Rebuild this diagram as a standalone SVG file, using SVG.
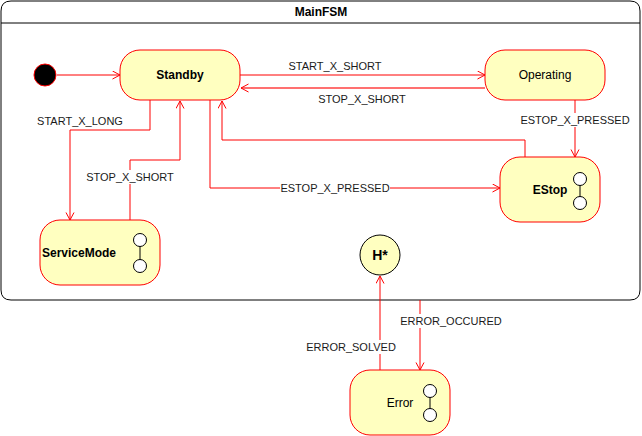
<svg xmlns="http://www.w3.org/2000/svg" width="642" height="436" viewBox="0 0 642 436">
<style>
.st{fill:#FFFFC0;stroke:#FF0000;stroke-width:1}
.nt{font-family:"Liberation Sans",Arial,sans-serif;font-size:12px;fill:#000;text-anchor:middle}
.b{font-weight:bold}
.lb{font-family:"Liberation Sans",Arial,sans-serif;font-size:11px;fill:#1a1a1a;text-anchor:middle}
.e{fill:none;stroke:#FF0000;stroke-width:1}
.bg{fill:#fff}
.sub{fill:#fff;stroke:#000;stroke-width:1}
</style>
<defs>
<marker id="a" markerWidth="10" markerHeight="10" refX="8" refY="4.5" orient="auto" markerUnits="userSpaceOnUse">
<path d="M0.5,0.5 L8,4.5 L0.5,8.5" fill="none" stroke="#FF0000" stroke-width="1"/>
</marker>
</defs>
<g id="MainFSM">
<path d="M11,1 H630 Q640,1 640,11 V290 Q640,300 630,300 H11 Q1,300 1,290 V11 Q1,1 11,1 Z" fill="#fff" stroke="#000" stroke-width="1"/>
<line x1="1" y1="23" x2="640" y2="23" stroke="#000"/>
<text class="nt b" x="321" y="16">MainFSM</text>
</g>
<g id="connectors">
<path class="e" d="M57,75 H120" marker-end="url(#a)"/>
<path class="e" d="M240,75 H485" marker-end="url(#a)"/>
<path d="M485,88 H241" fill="none" stroke="#FF7070" stroke-width="2" marker-end="url(#a)"/>
<path class="e" d="M575,100 V157" marker-end="url(#a)"/>
<path class="e" d="M525,157 V140 H222 V101" marker-end="url(#a)"/>
<path class="e" d="M210,100 V188 H500" marker-end="url(#a)"/>
<path class="e" d="M150,100 V130 H70 V220" marker-end="url(#a)"/>
<path class="e" d="M130,220 V160 H180 V101" marker-end="url(#a)"/>
<path class="e" d="M380,370 V276" marker-end="url(#a)"/>
<path class="e" d="M420,300 V370" marker-end="url(#a)"/>
<text class="lb" x="335" y="70">START_X_SHORT</text>
<text class="lb" x="362" y="103">STOP_X_SHORT</text>
<rect class="bg" x="522" y="113" width="107" height="14"/>
<text class="lb" x="575" y="124">ESTOP_X_PRESSED</text>
<rect class="bg" x="280" y="181" width="110" height="14"/>
<text class="lb" x="335" y="192">ESTOP_X_PRESSED</text>
<text class="lb" x="80" y="125">START_X_LONG</text>
<rect class="bg" x="86" y="170" width="88" height="14"/>
<text class="lb" x="130" y="181">STOP_X_SHORT</text>
<rect class="bg" x="305" y="340" width="92" height="14"/>
<text class="lb" x="351" y="351">ERROR_SOLVED</text>
<rect class="bg" x="399" y="314" width="104" height="14"/>
<text class="lb" x="451" y="325">ERROR_OCCURED</text>
</g>
<g id="initial">
<circle cx="45" cy="75" r="11" fill="#000" stroke="#FF0000"/>
</g>
<g id="Standby">
<rect class="st" x="120" y="50" width="120" height="50" rx="20"/>
<text class="nt b" x="180" y="79">Standby</text>
</g>
<g id="Operating">
<rect class="st" x="485" y="50" width="120" height="50" rx="20"/>
<text class="nt" x="545" y="79">Operating</text>
</g>
<g id="EStop">
<rect class="st" x="500" y="157" width="100" height="65" rx="20"/>
<text class="nt b" x="550" y="194">EStop</text>
<line x1="580" y1="179" x2="580" y2="203" stroke="#000"/>
<circle class="sub" cx="580" cy="179" r="6.5"/>
<circle class="sub" cx="580" cy="203" r="6.5"/>
</g>
<g id="ServiceMode">
<rect class="st" x="40" y="220" width="120" height="65" rx="20"/>
<text class="nt b" x="79" y="257">ServiceMode</text>
<line x1="140" y1="240" x2="140" y2="266" stroke="#000"/>
<circle class="sub" cx="140" cy="240" r="6.5"/>
<circle class="sub" cx="140" cy="266" r="6.5"/>
</g>
<g id="History">
<circle cx="380" cy="255" r="20" fill="#FFFFC0" stroke="#000"/>
<text class="nt b" x="380" y="260" style="font-size:14px">H*</text>
</g>
<g id="Error">
<rect class="st" x="350" y="370" width="100" height="65" rx="20"/>
<text class="nt" x="400" y="407">Error</text>
<line x1="430" y1="391" x2="430" y2="415" stroke="#000"/>
<circle class="sub" cx="430" cy="391" r="6.5"/>
<circle class="sub" cx="430" cy="415" r="6.5"/>
</g>
</svg>
